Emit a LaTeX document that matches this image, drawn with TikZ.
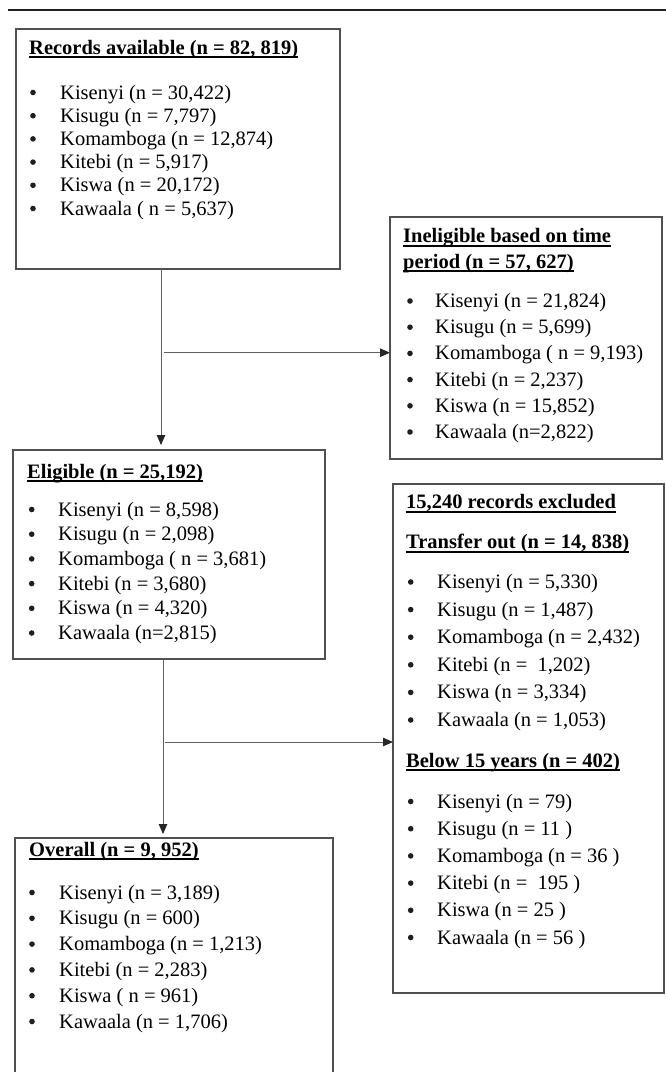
\documentclass[tikz,border=0pt]{standalone}
\usepackage{fontspec}
\setmainfont{Liberation Serif}
\usetikzlibrary{arrows.meta}
\definecolor{boxgray}{HTML}{505050}
\definecolor{conngray}{HTML}{606060}
\definecolor{rulecol}{HTML}{202020}
\newcommand\hdul[1]{\sbox0{#1}\rlap{\usebox0}\rule[-4.2pt]{\wd0}{2.2pt}}
\begin{document}
\begin{tikzpicture}[x=1pt,y=-1pt,
  box/.style={draw=boxgray, line width=1.2pt, anchor=north west, inner sep=0pt, outer sep=0pt},
  txt/.style={anchor=base west, inner sep=0pt, font=\fontsize{20.5}{23}\selectfont},
  hd/.style={anchor=base west, inner sep=0pt, font=\fontsize{20.5}{23}\selectfont\bfseries},
  bul/.style={circle, fill=black!88, inner sep=0pt, minimum size=5.6pt},
  conn/.style={draw=conngray, line width=1pt},
  arr/.style={conn, -{Triangle[length=10pt,width=8.5pt,color=black!85]}}]
\useasboundingbox (0,0) rectangle (666,1072);
\clip (0,0) rectangle (666,1072);

% top rule
\coordinate (r1) at (8,10);
\coordinate (r2) at (666,10);
\draw[line width=2.6pt, rulecol] (r1) -- (r2);

% boxes
\node[box, minimum width=324pt, minimum height=240pt] (B1) at (16,29) {};
\node[box, minimum width=272pt, minimum height=242pt] (B2) at (390,217) {};
\node[box, minimum width=312pt, minimum height=209pt] (B3) at (13,450) {};
\node[box, minimum width=271pt, minimum height=509pt] (B4) at (393,484) {};
\node[box, minimum width=318pt, minimum height=260pt] (B5) at (15,838) {};

% box 1
\node[hd] (H1) at (29,54) {\hdul{Records available (n = 82, 819)}};
\foreach \t [count=\i from 0] in {{Kisenyi (n = 30,422)},{Kisugu (n = 7,797)},{Komamboga (n = 12,874)},{Kitebi (n = 5,917)},{Kiswa (n = 20,172)},{Kawaala ( n = 5,637)}}{
  \node[bul] (B1b\i) at (33,99+23.2*\i-6.5) {};
  \node[txt] (B1t\i) at (60,99+23.2*\i) {\t};
}

% box 2
\node[hd] (H2a) at (403,242.7) {\hdul{Ineligible based on time}};
\node[hd] (H2b) at (403,268) {\hdul{period (n = 57, 627)}};
\foreach \t [count=\i from 0] in {{Kisenyi (n = 21,824)},{Kisugu (n = 5,699)},{Komamboga ( n = 9,193)},{Kitebi (n = 2,237)},{Kiswa (n = 15,852)},{Kawaala (n=2,822)}}{
  \node[bul] (B2b\i) at (410,307.5+26.2*\i-6.5) {};
  \node[txt] (B2t\i) at (435,307.5+26.2*\i) {\t};
}

% box 3
\node[hd] (H3) at (27,478) {\hdul{Eligible (n = 25,192)}};
\foreach \t [count=\i from 0] in {{Kisenyi (n = 8,598)},{Kisugu (n = 2,098)},{Komamboga ( n = 3,681)},{Kitebi (n = 3,680)},{Kiswa (n = 4,320)},{Kawaala (n=2,815)}}{
  \node[bul] (B3b\i) at (31.7,516+24.7*\i-6.5) {};
  \node[txt] (B3t\i) at (58,516+24.7*\i) {\t};
}

% box 4
\node[hd] (H4a) at (406,508.7) {\hdul{15,240 records excluded}};
\node[hd] (H4b) at (406,548.7) {\hdul{Transfer out (n = 14, 838)}};
\foreach \t [count=\i from 0] in {{Kisenyi (n = 5,330)},{Kisugu (n = 1,487)},{Komamboga (n = 2,432)},{Kitebi (n =~ 1,202)},{Kiswa (n = 3,334)},{Kawaala (n = 1,053)}}{
  \node[bul] (B4b\i) at (410.7,588.5+27.6*\i-6.5) {};
  \node[txt] (B4t\i) at (437,588.5+27.6*\i) {\t};
}
\node[hd] (H4c) at (406,767) {\hdul{Below 15 years (n = 402)}};
\foreach \t [count=\i from 0] in {{Kisenyi (n = 79)},{Kisugu (n = 11 )},{Komamboga (n = 36 )},{Kitebi (n =~ 195 )},{Kiswa (n = 25 )},{Kawaala (n = 56 )}}{
  \node[bul] (B4c\i) at (410.7,808+27.2*\i-6.5) {};
  \node[txt] (B4u\i) at (437,808+27.2*\i) {\t};
}

% box 5
\node[hd] (H5) at (29,856) {\hdul{Overall (n = 9, 952)}};
\foreach \t [count=\i from 0] in {{Kisenyi (n = 3,189)},{Kisugu (n = 600)},{Komamboga (n = 1,213)},{Kitebi (n = 2,283)},{Kiswa ( n = 961)},{Kawaala (n = 1,706)}}{
  \node[bul] (B5b\i) at (32,899+25.8*\i-6.5) {};
  \node[txt] (B5t\i) at (59,899+25.8*\i) {\t};
}

% connectors
\coordinate (a1) at (161,0);
\coordinate (a2) at (163,0);
\coordinate (j1) at (164,352.7);
\coordinate (j2) at (165,742);
\draw[arr, shorten >=5pt] (B1.south -| a1) -- (B3.north -| a1);
\draw[arr] (j1) -- (j1 -| B2.west);
\draw[arr, shorten >=4pt] (B3.south -| a2) -- (B5.north -| a2);
\draw[arr] (j2) -- (j2 -| B4.west);
\end{tikzpicture}
\end{document}
